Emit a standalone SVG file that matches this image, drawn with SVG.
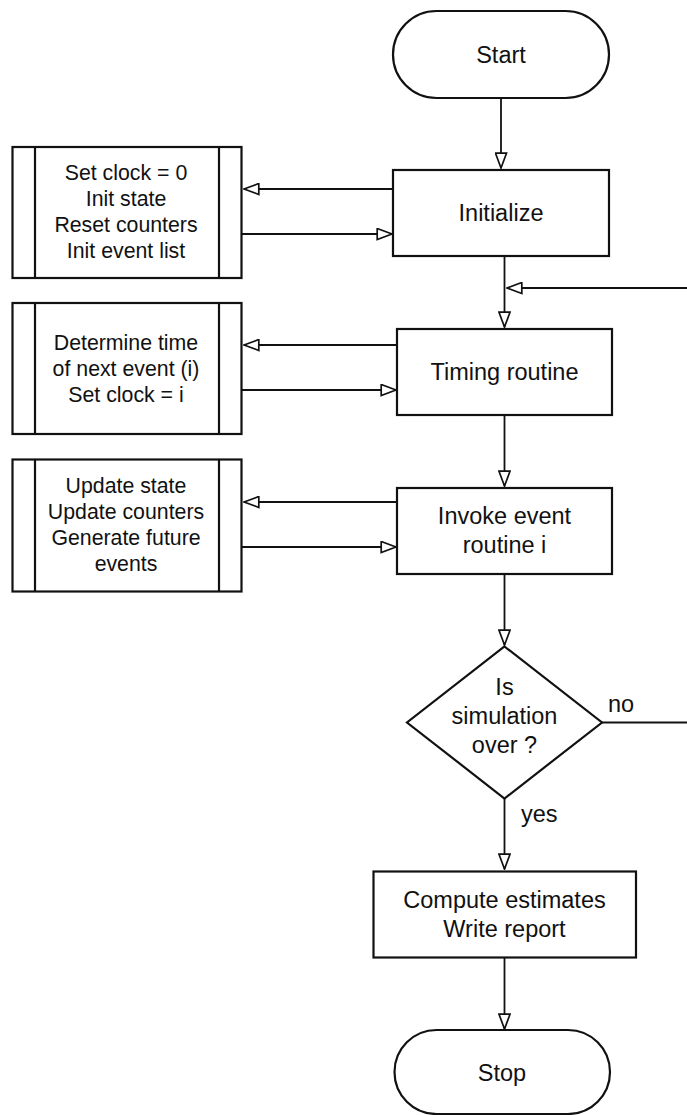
<svg xmlns="http://www.w3.org/2000/svg" width="687" height="1115" viewBox="0 0 687 1115">
  <style>
    .shape { fill: #ffffff; stroke: #111111; stroke-width: 2.2; }
    .bar { fill: none; stroke: #111111; stroke-width: 2.2; }
    .conn { fill: none; stroke: #111111; stroke-width: 1.8; marker-end: url(#arrow); }
    .main { font-family: "Liberation Sans", Arial, sans-serif; font-size: 23.5px; fill: #111111; text-anchor: middle; }
    .side { font-family: "Liberation Sans", Arial, sans-serif; font-size: 21.3px; fill: #111111; text-anchor: middle; }
    .lbl { font-family: "Liberation Sans", Arial, sans-serif; font-size: 23.5px; fill: #111111; }
  </style>
  <defs>
    <marker id="arrow" viewBox="0 0 17 13" refX="16" refY="6.5" markerWidth="17" markerHeight="13" markerUnits="userSpaceOnUse" orient="auto">
      <path d="M1.2,1 L16,6.5 L1.2,12 Z" fill="#ffffff" stroke="#111111" stroke-width="1.7" stroke-linejoin="miter"/>
    </marker>
  </defs>

  <!-- connectors -->
  <g id="connectors">
    <path class="conn" d="M501,98 V168"/>
    <path class="conn" d="M393,189 H244"/>
    <path class="conn" d="M242,234 H392"/>
    <path class="conn" d="M504.5,256 V327"/>
    <path class="conn" d="M602,722.5 H700 V288 H507"/>
    <path class="conn" d="M397,345 H244"/>
    <path class="conn" d="M242,390 H396"/>
    <path class="conn" d="M504.5,415 V486"/>
    <path class="conn" d="M397,502 H244"/>
    <path class="conn" d="M242,547 H396"/>
    <path class="conn" d="M504.5,574 V645"/>
    <path class="conn" d="M504.5,798.5 V869"/>
    <path class="conn" d="M504.5,957.5 V1029"/>
    <text class="lbl" x="608" y="712">no</text>
    <text class="lbl" x="521" y="822">yes</text>
  </g>

  <g id="start">
    <rect class="shape" x="393" y="11" width="216" height="87" rx="43.5" ry="43.5"/>
    <text class="main" x="501" y="63">Start</text>
  </g>

  <g id="initialize">
    <rect class="shape" x="393" y="170" width="216" height="86"/>
    <text class="main" x="501" y="221">Initialize</text>
  </g>

  <g id="init-steps">
    <rect class="shape" x="12.5" y="147" width="229" height="131"/>
    <line class="bar" x1="35" y1="147" x2="35" y2="278"/>
    <line class="bar" x1="219" y1="147" x2="219" y2="278"/>
    <text class="side" x="126" y="180">Set clock = 0</text>
    <text class="side" x="126" y="206">Init state</text>
    <text class="side" x="126" y="232">Reset counters</text>
    <text class="side" x="126" y="258">Init event list</text>
  </g>

  <g id="timing">
    <rect class="shape" x="397" y="329" width="215" height="86"/>
    <text class="main" x="504.5" y="380">Timing routine</text>
  </g>

  <g id="timing-steps">
    <rect class="shape" x="12.5" y="303" width="229" height="131"/>
    <line class="bar" x1="35" y1="303" x2="35" y2="434"/>
    <line class="bar" x1="219" y1="303" x2="219" y2="434"/>
    <text class="side" x="126" y="350">Determine time</text>
    <text class="side" x="126" y="376">of next event (i)</text>
    <text class="side" x="126" y="402">Set clock = i</text>
  </g>

  <g id="invoke">
    <rect class="shape" x="397" y="488" width="215" height="86"/>
    <text class="main" x="504.5" y="524">Invoke event</text>
    <text class="main" x="504.5" y="553">routine i</text>
  </g>

  <g id="event-steps">
    <rect class="shape" x="12.5" y="459.5" width="229" height="132"/>
    <line class="bar" x1="35" y1="459.5" x2="35" y2="591.5"/>
    <line class="bar" x1="219" y1="459.5" x2="219" y2="591.5"/>
    <text class="side" x="126" y="493">Update state</text>
    <text class="side" x="126" y="519">Update counters</text>
    <text class="side" x="126" y="545">Generate future</text>
    <text class="side" x="126" y="571">events</text>
  </g>

  <g id="decision">
    <polygon class="shape" points="504.5,646.5 602,722.5 504.5,798.5 407,722.5"/>
    <text class="main" x="504.5" y="695">Is</text>
    <text class="main" x="504.5" y="724">simulation</text>
    <text class="main" x="504.5" y="753">over ?</text>
  </g>

  <g id="report">
    <rect class="shape" x="373.5" y="871.5" width="262.5" height="86"/>
    <text class="main" x="504.5" y="908">Compute estimates</text>
    <text class="main" x="504.5" y="937">Write report</text>
  </g>

  <g id="stop">
    <rect class="shape" x="394.5" y="1030" width="215.5" height="84" rx="42" ry="42"/>
    <text class="main" x="502" y="1080.5">Stop</text>
  </g>
</svg>
